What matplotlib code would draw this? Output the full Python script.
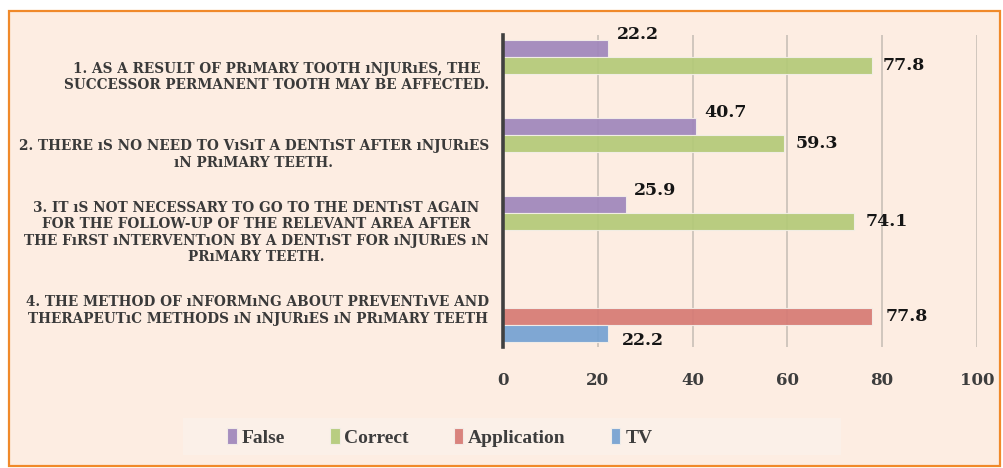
import numpy as np
import matplotlib
matplotlib.use("Agg")
import matplotlib.pyplot as plt
from matplotlib.patches import Rectangle

# Data
categories = [
    "1. AS A RESULT OF PRıMARY TOOTH ıNJURıES, THE\nSUCCESSOR PERMANENT TOOTH MAY BE AFFECTED.",
    "2. THERE ıS NO NEED TO VıSıT A DENTıST AFTER ıNJURıES\nıN PRıMARY TEETH.",
    "3. IT ıS NOT NECESSARY TO GO TO THE DENTıST AGAIN\nFOR THE FOLLOW-UP OF THE RELEVANT AREA AFTER\n"
    "THE FıRST ıNTERVENTıON BY A DENTıST FOR ıNJURıES ıN\nPRıMARY TEETH.",
    "4. THE METHOD OF ıNFORMıNG ABOUT PREVENTıVE AND\nTHERAPEUTıC METHODS ıN ıNJURıES ıN PRıMARY TEETH",
]
series_names = ["False", "Correct", "Application", "TV"]
false_vals = [22.2, 40.7, 25.9, np.nan]
correct_vals = [77.8, 59.3, 74.1, np.nan]
app_vals = [np.nan, np.nan, np.nan, 77.8]
tv_vals = [np.nan, np.nan, np.nan, 22.2]
x_ticks = [0, 20, 40, 60, 80, 100]

colors = ["#9f86bb", "#b3ca78", "#d67a74", "#74a1d2"]
# label offsets in points (dx, dy) per series
label_offsets = [(6, 10), (8, 0), (10, 0), (10, -5)]

plt.rcParams['font.family'] = ['Liberation Serif', 'DejaVu Serif']
wide_serif = ['DejaVu Serif']

fig = plt.figure(figsize=(10.04, 4.68), dpi=100)
fig.patch.set_facecolor("white")

# orange framed background
fig.patches.append(Rectangle((0.009, 0.004), 0.987, 0.972, transform=fig.transFigure,
                             facecolor="#fdede2", edgecolor="#f0892a", lw=1.6, zorder=-2))
# legend band
fig.patches.append(Rectangle((0.182, 0.028), 0.656, 0.079, transform=fig.transFigure,
                             facecolor="#fbf0e8", edgecolor="none", zorder=-1))

ax = fig.add_axes([0.501, 0.259, 0.472, 0.666])
ax.set_facecolor("none")
ax.set_zorder(1)

y = np.arange(len(categories))
h = 0.218
all_vals = [false_vals, correct_vals, app_vals, tv_vals]
for i, (vals, name, col) in enumerate(zip(all_vals, series_names, colors)):
    pos = y + (i - 1.5) * h
    v = np.array(vals, dtype=float)
    ax.barh(pos, np.nan_to_num(v), height=h * 0.97, color=col, alpha=0.92,
            edgecolor="#f4efe9", linewidth=0.8, label=name, zorder=2)
    dx, dy = label_offsets[i]
    for p, val in zip(pos, v):
        if np.isnan(val):
            continue
        ax.annotate(f"{val:.1f}", xy=(val, p), xytext=(dx, dy), textcoords="offset points",
                    ha="left", va="center", fontsize=12.5, fontweight="bold", color="#151515",
                    family=wide_serif, zorder=4)

ax.set_ylim(3.5, -0.5)
ax.set_xlim(0, 100)
ax.set_xticks(x_ticks)
ax.set_xticklabels([str(t) for t in x_ticks], fontsize=12, fontweight="bold", color="#3d3d3d",
                   family=wide_serif)
ax.set_yticks(y)
ax.set_yticklabels(categories, fontsize=9.8, fontweight="bold", color="#3a3a3a",
                   multialignment="center", family=wide_serif, linespacing=1.22)
ax.tick_params(axis="x", length=0, pad=18)
ax.tick_params(axis="y", length=0, pad=10)
ax.grid(axis="x", color="#cdc3bb", lw=1.3, zorder=1)
ax.set_axisbelow(True)
for s in ["top", "right", "bottom"]:
    ax.spines[s].set_visible(False)
ax.spines["left"].set_color("#404040")
ax.spines["left"].set_linewidth(2.6)
ax.spines["left"].set_zorder(5)

handles, labels = ax.get_legend_handles_labels()
leg = fig.legend(handles, labels, loc="center", bbox_to_anchor=(0.438, 0.066), ncol=4,
                 frameon=False, handlelength=0.5, handleheight=0.9,
                 handletextpad=0.25, columnspacing=2.3,
                 prop={"weight": "bold", "size": 14})
for t in leg.get_texts():
    t.set_color("#3d3d3d")

plt.savefig("out.png", dpi=100, facecolor=fig.get_facecolor())
plt.close()
